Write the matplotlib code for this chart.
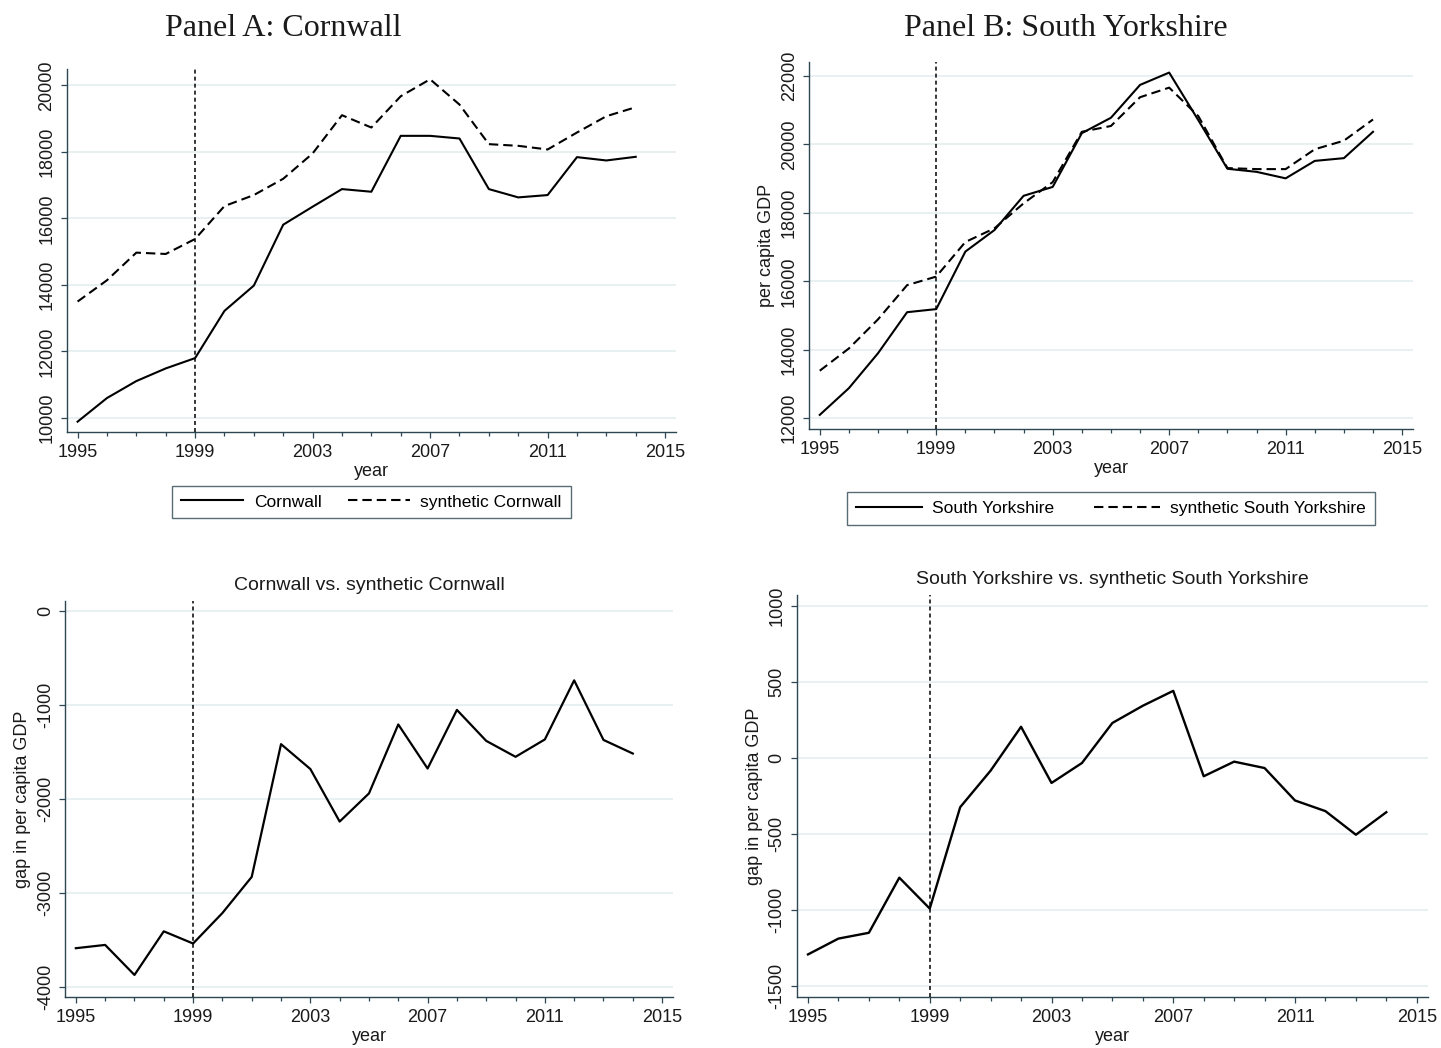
#!/usr/bin/env python3
# -*- coding: utf-8 -*-
"""
Synthetic control results: Cornwall and South Yorkshire per capita GDP
Top row: actual vs synthetic, bottom row: gap (actual - synthetic).
"""
import matplotlib
matplotlib.use("Agg")
import matplotlib.pyplot as plt
from matplotlib.ticker import MultipleLocator, FixedLocator

plt.rcParams["font.family"] = ["Liberation Sans", "DejaVu Sans"]
plt.rcParams["axes.unicode_minus"] = False

YEARS = list(range(1995, 2015))
TREAT_YEAR = 1999

# Panel A: Cornwall
CORNWALL = [9890, 10600, 11110, 11490, 11800, 13220, 13980, 15810, 16350, 16880,
            16800, 18480, 18480, 18400, 16880, 16630, 16700, 17840, 17740, 17850]
SYNTH_CORNWALL = [13500, 14140, 14970, 14930, 15380, 16370, 16700, 17190, 17950, 19100,
                  18730, 19670, 20180, 19420, 18230, 18180, 18070, 18580, 19070, 19340]
GAP_CORNWALL = [-3590, -3555, -3875, -3410, -3540, -3215, -2830, -1415, -1680, -2240,
                -1940, -1205, -1675, -1050, -1380, -1550, -1365, -735, -1370, -1515]

# Panel B: South Yorkshire
SOUTH_YORKS = [12100, 12880, 13900, 15100, 15190, 16870, 17500, 18500, 18760, 20330,
               20780, 21740, 22100, 20710, 19290, 19200, 19010, 19520, 19600, 20370]
SYNTH_SOUTH_YORKS = [13390, 14040, 14890, 15890, 16140, 17150, 17550, 18280, 18900, 20370,
                     20540, 21380, 21660, 20830, 19310, 19280, 19280, 19860, 20110, 20730]
GAP_SOUTH_YORKS = [-1290, -1186, -1148, -786, -989, -323, -83, 205, -164, -33,
                   230, 343, 441, -120, -24, -66, -279, -349, -504, -356]

XTICKS = [1995, 1999, 2003, 2007, 2011, 2015]

SPINE = "#2d4752"
GRID = "#e6eff1"
TXT = "#1a1a1a"
FS = 13


def style_axes(ax, yticks, ylim, ylabel=None):
    ax.set_xlim(1994.63, 2015.37)
    ax.set_ylim(*ylim)
    ax.xaxis.set_major_locator(FixedLocator(XTICKS))
    ax.xaxis.set_minor_locator(MultipleLocator(1))
    ax.yaxis.set_major_locator(FixedLocator(yticks))
    for s in ("top", "right"):
        ax.spines[s].set_visible(False)
    for s in ("left", "bottom"):
        ax.spines[s].set_color(SPINE)
        ax.spines[s].set_linewidth(1.0)
    ax.tick_params(which="both", direction="out", color=SPINE, width=0.9,
                   labelsize=FS, labelcolor=TXT)
    ax.tick_params(which="major", length=4, pad=4.5)
    ax.tick_params(which="minor", length=3.2)
    ax.tick_params(axis="y", which="major", pad=4)
    for lab in ax.get_yticklabels():
        lab.set_rotation(90)
        lab.set_va("center")
    ax.grid(axis="y", color=GRID, lw=1.3)
    ax.set_axisbelow(True)
    ax.set_xlabel("year", fontsize=FS, color=TXT, labelpad=1.5)
    if ylabel:
        ax.set_ylabel(ylabel, fontsize=FS, color=TXT, labelpad=4)
    ax.axvline(TREAT_YEAR, color="black", lw=1.1, ls=(0, (2.6, 2.0)), zorder=3)


fig = plt.figure(figsize=(14.41, 10.48), dpi=100)

# --- Panel A top ---
axA = fig.add_axes([0.0463, 0.5878, 0.4228, 0.3464])
axA.plot(YEARS, CORNWALL, color="black", lw=1.5, label="Cornwall")
axA.plot(YEARS, SYNTH_CORNWALL, color="black", lw=1.5, ls=(0, (4.5, 2.4)),
         label="synthetic Cornwall")
style_axes(axA, range(10000, 20001, 2000), (9580, 20490))
legA = axA.legend(loc="upper center", bbox_to_anchor=(0.5, -0.148), ncol=2,
                  fontsize=12.5, frameon=True, fancybox=False, edgecolor=SPINE,
                  handlelength=3.6, columnspacing=1.5, handletextpad=0.6,
                  borderpad=0.5, borderaxespad=0)
legA.get_frame().set_linewidth(1.0)

# --- Panel B top ---
axB = fig.add_axes([0.5614, 0.5904, 0.4191, 0.3508])
axB.plot(YEARS, SOUTH_YORKS, color="black", lw=1.5, label="South Yorkshire")
axB.plot(YEARS, SYNTH_SOUTH_YORKS, color="black", lw=1.5, ls=(0, (4.5, 2.4)),
         label="synthetic South Yorkshire")
style_axes(axB, range(12000, 22001, 2000), (11680, 22420), "per capita GDP")
legB = axB.legend(loc="upper center", bbox_to_anchor=(0.5, -0.172), ncol=2,
                  fontsize=12.5, frameon=True, fancybox=False, edgecolor=SPINE,
                  handlelength=3.8, columnspacing=2.3, handletextpad=0.6,
                  borderpad=0.5, borderaxespad=0)
legB.get_frame().set_linewidth(1.0)

# --- Panel A gap ---
axC = fig.add_axes([0.0451, 0.0484, 0.4219, 0.3777])
axC.plot(YEARS, GAP_CORNWALL, color="black", lw=1.6)
style_axes(axC, range(-4000, 1, 1000), (-4113, 106), "gap in per capita GDP")
axC.set_title("Cornwall vs. synthetic Cornwall", fontsize=14, color=TXT, pad=8)

# --- Panel B gap ---
axD = fig.add_axes([0.5529, 0.0489, 0.4381, 0.3833])
axD.plot(YEARS, GAP_SOUTH_YORKS, color="black", lw=1.7)
style_axes(axD, range(-1500, 1001, 500), (-1568, 1070), "gap in per capita GDP")
axD.set_title("South Yorkshire vs. synthetic South Yorkshire", fontsize=14,
              color=TXT, pad=8)

# panel headings (serif, like the paper)
fig.text(283 / 1441, 1 - 28 / 1048, "Panel A: Cornwall", ha="center", va="center",
         fontsize=23, family=["Liberation Serif", "DejaVu Serif"], color=TXT)
fig.text(1066 / 1441, 1 - 28 / 1048, "Panel B: South Yorkshire", ha="center",
         va="center", fontsize=23, family=["Liberation Serif", "DejaVu Serif"],
         color=TXT)

fig.savefig("out.png", dpi=100)
